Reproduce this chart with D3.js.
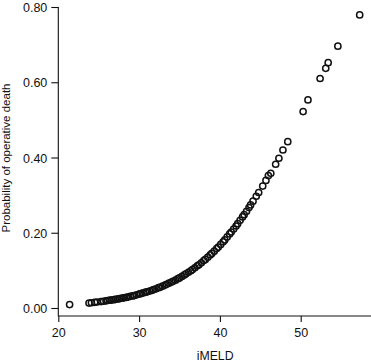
<!DOCTYPE html>
<html>
<head>
<meta charset="utf-8">
<script src="https://cdn.jsdelivr.net/npm/d3@7"></script>
<style>
  html, body { margin: 0; padding: 0; background: #fff; }
  text { font-family: "Liberation Sans", Arial, sans-serif; fill: #111; }
</style>
</head>
<body>
<div id="chart"></div>
<script>
// iMELD score of each patient
const imeld = [
  21.4, 23.8, 24.1, 24.5, 24.8, 25.3, 25.6, 25.9, 26.1, 26.4,
  26.6, 26.9, 27.1, 27.4, 27.6, 27.9, 28.1, 28.4, 28.6, 28.9,
  29.2, 29.4, 29.7, 30.0, 30.2, 30.5, 30.8, 31.0, 31.3, 31.6,
  31.8, 32.1, 32.4, 32.6, 32.9, 33.2, 33.4, 33.7, 34.0, 34.2,
  34.5, 34.8, 35.0, 35.3, 35.6, 35.8, 36.1, 36.4, 36.6, 36.9,
  37.2, 37.4, 37.7, 38.0, 38.2, 38.5, 38.8, 39.0, 39.3, 39.6,
  39.8, 40.1, 40.4, 40.6, 40.9, 41.2, 41.4, 41.7, 42.0, 42.2,
  42.5, 42.8, 43.0, 43.3, 43.6, 43.8, 44.1, 44.5, 44.8, 45.3,
  45.7, 46.0, 46.3, 46.9, 47.3, 47.8, 48.4, 50.3, 50.9, 52.4,
  53.1, 53.4, 54.6, 57.3
];
// probability of operative death
const prob = [
  0.009, 0.013, 0.014, 0.015, 0.016, 0.017, 0.018, 0.019, 0.020, 0.021,
  0.021, 0.022, 0.023, 0.024, 0.025, 0.026, 0.027, 0.028, 0.029, 0.031,
  0.032, 0.033, 0.035, 0.037, 0.038, 0.040, 0.042, 0.043, 0.045, 0.047,
  0.049, 0.051, 0.054, 0.055, 0.058, 0.061, 0.063, 0.066, 0.069, 0.071,
  0.074, 0.078, 0.080, 0.084, 0.088, 0.091, 0.095, 0.099, 0.102, 0.107,
  0.112, 0.115, 0.120, 0.126, 0.129, 0.135, 0.141, 0.145, 0.151, 0.158,
  0.162, 0.169, 0.176, 0.181, 0.189, 0.197, 0.202, 0.210, 0.218, 0.224,
  0.233, 0.242, 0.248, 0.257, 0.267, 0.274, 0.284, 0.297, 0.307, 0.324,
  0.339, 0.352, 0.358, 0.382, 0.398, 0.420, 0.442, 0.522, 0.553, 0.610,
  0.637, 0.652, 0.696, 0.779
];
const xTicks = [20, 30, 40, 50];
const yTicks = [0, 0.2, 0.4, 0.6, 0.8];

const width = 371, height = 362;
const points = imeld.map((v, i) => ({ x: v, y: prob[i] }));

const svg = d3.select('#chart').append('svg')
  .attr('width', width)
  .attr('height', height);

const x = d3.scaleLinear().domain([20, 50]).range([58.3, 300.7]);
const y = d3.scaleLinear().domain([0, 0.8]).range([308, 7]);
const axisY = 316; // bottom line of the L box

// L-shaped frame
svg.append('path')
  .attr('d', `M${x(20)},${y(0.8)}V${axisY}H${width}`)
  .attr('fill', 'none')
  .attr('stroke', '#111')
  .attr('stroke-width', 1.1);

// y axis
const gy = svg.append('g')
  .attr('transform', `translate(${x(20)},0)`)
  .call(d3.axisLeft(y).tickValues(yTicks).tickFormat(d3.format('.2f')).tickSize(7).tickPadding(4));
gy.select('.domain').remove();
gy.selectAll('line').attr('stroke', '#111').attr('stroke-width', 1.1);
gy.selectAll('text').style('font-size', '12.5px').attr('dy', '0.36em');

// x axis
const gx = svg.append('g')
  .attr('transform', `translate(0,${axisY})`)
  .call(d3.axisBottom(x).tickValues(xTicks).tickFormat(d3.format('d')).tickSize(6).tickPadding(6));
gx.select('.domain').remove();
gx.selectAll('line').attr('stroke', '#111').attr('stroke-width', 1.1);
gx.selectAll('text').style('font-size', '12.5px');

// axis titles
svg.append('text')
  .attr('x', (x(20) + width) / 2 + 0.5)
  .attr('y', 360)
  .attr('text-anchor', 'middle')
  .style('font-size', '12.3px')
  .text('iMELD');

svg.append('text')
  .attr('transform', `translate(10,158) rotate(-90)`)
  .attr('text-anchor', 'middle')
  .style('font-size', '11.5px')
  .text('Probability of operative death');

// points
svg.append('g')
  .selectAll('circle')
  .data(points)
  .enter()
  .append('circle')
  .attr('cx', d => x(d.x))
  .attr('cy', d => y(d.y))
  .attr('r', 3.1)
  .attr('fill', 'none')
  .attr('stroke', '#111')
  .attr('stroke-width', 1.5);
</script>
</body>
</html>
